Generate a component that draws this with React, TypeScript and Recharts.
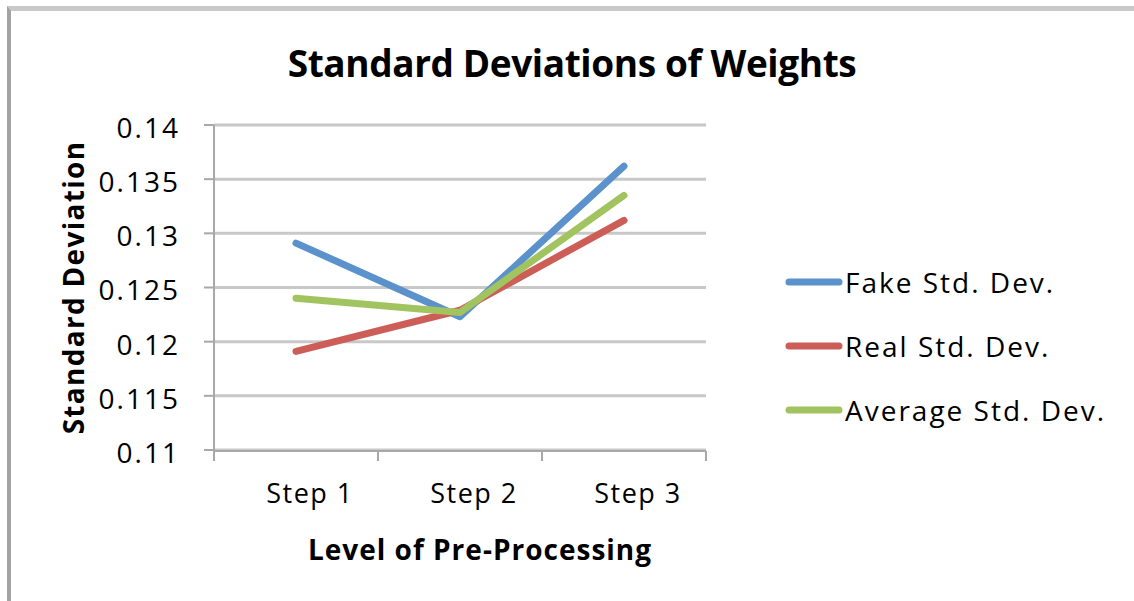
import { LineChart, Line, XAxis, YAxis, CartesianGrid, Legend } from "recharts";

const categories = ["Step 1", "Step 2", "Step 3"];
const fakeStd = [0.1291, 0.1223, 0.1362];
const realStd = [0.1191, 0.1229, 0.1312];
const avgStd = [0.124, 0.1227, 0.1335];
const yTicks = [0.11, 0.115, 0.12, 0.125, 0.13, 0.135, 0.14];
const seriesNames = ["Fake Std. Dev.", "Real Std. Dev.", "Average Std. Dev."];
const seriesColors = ["#5b92cb", "#cd5e57", "#a1c461"];

const data = categories.map((step, i) => ({
  step,
  fake: fakeStd[i],
  real: realStd[i],
  avg: avgStd[i],
}));

// category boundaries (halfway between category indexes), where the x tick marks sit
const boundaries = categories.map((_, i) => i - 0.5).concat(categories.length - 0.5);

const FONT = "'Open Sans', Calibri, sans-serif";

function YTitle(props: any) {
  const vb = props.viewBox;
  const cx = vb.x + 23;
  const cy = vb.y + vb.height / 2;
  return (
    <text
      x={cx}
      y={cy}
      transform={`rotate(-90, ${cx}, ${cy})`}
      textAnchor="middle"
      dominantBaseline="central"
      fontFamily={FONT}
      fontWeight="bold"
      fontSize={28}
      letterSpacing={1.3}
      fill="#000"
    >
      Standard Deviation
    </text>
  );
}

function XTitle(props: any) {
  const vb = props.viewBox;
  return (
    <text
      x={vb.x + vb.width / 2 + 20}
      y={vb.y + 110}
      textAnchor="middle"
      fontFamily={FONT}
      fontWeight="bold"
      fontSize={28}
      letterSpacing={1}
      fill="#000"
    >
      Level of Pre-Processing
    </text>
  );
}

function LegendBox() {
  return (
    <div style={{ fontFamily: FONT, fontSize: 28, letterSpacing: 2, color: "#000" }}>
      {seriesNames.map((name, i) => (
        <div key={name} style={{ display: "flex", alignItems: "center", height: 64 }}>
          <svg width={58} height={10} style={{ marginRight: 2 }}>
            <line x1={4} y1={5} x2={54} y2={5} stroke={seriesColors[i]} strokeWidth={7} strokeLinecap="round" />
          </svg>
          <span>{name}</span>
        </div>
      ))}
    </div>
  );
}

export default function App() {
  return (
    <div style={{ position: "absolute", left: 0, top: 0, width: 1134, height: 601, background: "#fff" }}>
      <div
        style={{
          position: "absolute",
          left: 7,
          top: 6,
          right: 0,
          bottom: 0,
          borderTop: "5px solid #c9c9c9",
          borderLeft: "4px solid #a3a3a3",
        }}
      />
      <div
        style={{
          position: "absolute",
          left: 0,
          width: 1144,
          top: 37,
          textAlign: "center",
          fontFamily: FONT,
          fontWeight: "bold",
          fontSize: 37,
          letterSpacing: -0.4,
          color: "#000",
        }}
      >
        Standard Deviations of Weights
      </div>
      <LineChart
        width={1134}
        height={601}
        data={data}
        margin={{ top: 125, right: 428, bottom: 149, left: 50 }}
        style={{ position: "absolute", left: 0, top: 0 }}
      >
        <CartesianGrid horizontal vertical={false} stroke="#c8c8c8" strokeWidth={3} />
        <XAxis
          xAxisId="bounds"
          type="number"
          domain={[0, categories.length - 1]}
          padding={{ left: 82, right: 82 }}
          ticks={boundaries}
          tickFormatter={() => ""}
          tickSize={10}
          height={1}
          stroke="#a8a8a8"
          strokeWidth={2}
        />
        <XAxis
          dataKey="step"
          padding={{ left: 82, right: 82 }}
          height={1}
          axisLine={false}
          tickLine={false}
          tickSize={0}
          tickMargin={34}
          tick={{ fontFamily: FONT, fontSize: 27, letterSpacing: 1.5, fill: "#000", dx: 14 }}
          label={{ content: XTitle }}
        />
        <YAxis
          width={164}
          domain={[0.11, 0.14]}
          ticks={yTicks}
          interval={0}
          tickSize={10}
          tickMargin={24}
          stroke="#a8a8a8"
          strokeWidth={2}
          tick={{ fontFamily: FONT, fontSize: 28, letterSpacing: 2, fill: "#000", dy: 3 }}
          label={{ content: YTitle }}
        />
        <Legend
          layout="vertical"
          align="center"
          verticalAlign="middle"
          content={LegendBox}
          wrapperStyle={{ left: 785, top: 250, width: 345 }}
        />
        <Line dataKey="fake" xAxisId={0} stroke={seriesColors[0]} strokeWidth={7} strokeLinecap="round" strokeLinejoin="round" dot={false} isAnimationActive={false} />
        <Line dataKey="real" xAxisId={0} stroke={seriesColors[1]} strokeWidth={7} strokeLinecap="round" strokeLinejoin="round" dot={false} isAnimationActive={false} />
        <Line dataKey="avg" xAxisId={0} stroke={seriesColors[2]} strokeWidth={7} strokeLinecap="round" strokeLinejoin="round" dot={false} isAnimationActive={false} />
      </LineChart>
    </div>
  );
}
